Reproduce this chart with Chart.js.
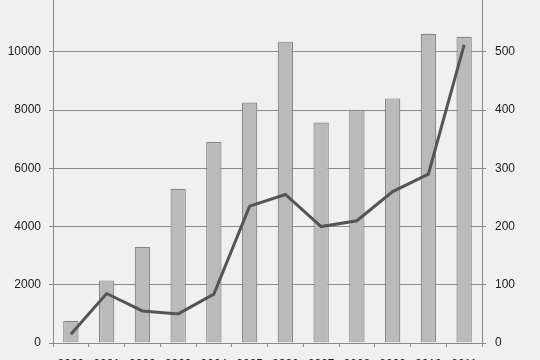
<!DOCTYPE html>
<html><head><meta charset="utf-8">
<script src="https://cdn.jsdelivr.net/npm/chart.js@4"></script>
<style>
html,body{margin:0;padding:0;background:#f0f0f0;overflow:hidden;width:540px;height:360px;}
#wrap{position:absolute;left:0;top:-29px;width:540px;height:420px;}
</style></head><body>
<div id="wrap"><canvas id="c" width="540" height="420"></canvas></div>
<script>
const categories = ['2000','2001','2002','2003','2004','2005','2006','2007','2008','2009','2010','2011'];
const barValues = [760, 2150, 3300, 5300, 6900, 8260, 10350, 7570, 8000, 8400, 10620, 10520];
const lineValues = [15, 85, 55, 50, 84, 235, 255, 200, 210, 260, 290, 512];
const leftTicks = [0, 2000, 4000, 6000, 8000, 10000, 12000];
const rightTicks = [0, 100, 200, 300, 400, 500, 600];

const font = {family: "'Liberation Sans', Arial, sans-serif", size: 12};
Chart.defaults.font = font;
Chart.defaults.color = '#222';

new Chart(document.getElementById('c'), {
  data: {
    labels: categories,
    datasets: [
      {type: 'line', data: lineValues, yAxisID: 'yR', borderColor: '#555555', borderWidth: 3,
       pointRadius: 0, tension: 0, order: 0, borderJoinStyle: 'miter'},
      {type: 'bar', data: barValues, yAxisID: 'yL', backgroundColor: '#bababa', borderColor: '#858585',
       borderWidth: 1.2, barPercentage: 0.43, categoryPercentage: 1, order: 1}
    ]
  },
  options: {
    responsive: false, animation: false, devicePixelRatio: 1,
    layout: {padding: {top: 22.6, left: 0, right: 0, bottom: 0}},
    plugins: {legend: {display: false}, tooltip: {enabled: false}},
    scales: {
      x: {
        grid: {display: true, drawOnChartArea: false, drawTicks: true, tickLength: 4, color: '#8a8a8a', offset: true},
        border: {display: true, color: '#8a8a8a'},
        ticks: {padding: 10, maxRotation: 0, autoSkip: false},
        afterFit: s => { s.height = 48; }
      },
      yL: {
        position: 'left', min: 0, max: 12000,
        afterBuildTicks: s => { s.ticks = leftTicks.map(v => ({value: v})); },
        grid: {color: '#8a8a8a', tickLength: 4, drawTicks: true},
        border: {display: true, color: '#8a8a8a'},
        ticks: {padding: 8, callback: v => String(v)},
        afterFit: s => { s.width = 53; }
      },
      yR: {
        position: 'right', min: 0, max: 600,
        afterBuildTicks: s => { s.ticks = rightTicks.map(v => ({value: v})); },
        grid: {drawOnChartArea: false, color: '#8a8a8a', tickLength: 4, drawTicks: true},
        border: {display: true, color: '#8a8a8a'},
        ticks: {padding: 9, callback: v => String(v)},
        afterFit: s => { s.width = 58; }
      }
    }
  }
});
</script>
</body></html>
